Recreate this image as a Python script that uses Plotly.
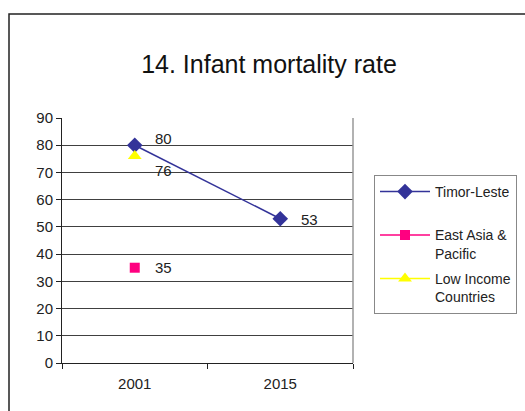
import plotly.graph_objects as go

years = ["2001", "2015"]
timor_leste = [80, 53]
east_asia_x = ["2001"]
east_asia = [35]
low_income_x = ["2001"]
low_income = [76]
y_ticks = [0, 10, 20, 30, 40, 50, 60, 70, 80, 90]

FONT = "Liberation Sans, Arial, sans-serif"
NAVY = "#333399"
PINK = "#FF0080"
YELLOW = "#FFFF00"
TXT = "#222222"

fig = go.Figure()
fig.add_trace(go.Scatter(
    x=years, y=timor_leste, name="Timor-Leste<br> ", mode="lines+markers",
    line=dict(color=NAVY, width=1.5),
    marker=dict(symbol="diamond", size=12, color=NAVY),
    legendgroup="a"))
fig.add_trace(go.Scatter(
    x=east_asia_x, y=east_asia, name="East Asia &<br>Pacific", mode="lines+markers",
    line=dict(color=PINK, width=1.5),
    marker=dict(symbol="square", size=10, color=PINK),
    legendgroup="b"))
fig.add_trace(go.Scatter(
    x=low_income_x, y=low_income, name="Low Income<br>Countries", mode="lines+markers",
    line=dict(color=YELLOW, width=1.5),
    marker=dict(symbol="triangle-up", size=12, color=YELLOW),
    legendgroup="c"))

# data labels (positioned via category index on the axis)
labels = [
    (years[0], timor_leste[0], 18, 7),
    (years[1], timor_leste[1], 19, -1),
    (east_asia_x[0], east_asia[0], 18, 0),
    (low_income_x[0], low_income[0], 18, -14),
]
for xv, yv, xs, ys in labels:
    fig.add_annotation(x=years.index(xv), y=yv, xref="x", yref="y",
                       text=str(yv), showarrow=False,
                       xanchor="left", yanchor="middle", xshift=xs, yshift=ys,
                       font=dict(family=FONT, size=15, color=TXT))

W, H = 525, 411
L, R, T, B = 62, 353, 118, 363
pw, ph = R - L, B - T


def px(x):
    return (x - L) / pw


def py(y):
    return (B - y) / ph


# outer frame
fig.add_shape(type="rect", xref="paper", yref="paper",
              x0=px(9), x1=px(560), y0=py(14), y1=py(450),
              line=dict(color="#222222", width=1.5), fillcolor="rgba(0,0,0,0)",
              layer="above")
# right border of plot area
fig.add_shape(type="line", xref="paper", yref="paper",
              x0=1, x1=1, y0=0, y1=1,
              line=dict(color="#999999", width=1.5))

fig.update_layout(
    width=W, height=H,
    margin=dict(l=L, r=W - R, t=T, b=H - B, autoexpand=False),
    paper_bgcolor="white", plot_bgcolor="white",
    font=dict(family=FONT, size=15, color=TXT),
    title=dict(text="14. Infant mortality rate", x=269 / W, xref="container",
               xanchor="center", y=1 - 64 / H, yref="container", yanchor="middle",
               font=dict(family=FONT, size=25, color="#111111")),
    xaxis=dict(type="category", range=[-0.5, 1.5], tickson="boundaries",
               ticks="outside", ticklen=5, tickcolor="#222222",
               showline=True, linecolor="#222222", linewidth=1,
               showgrid=False, tickfont=dict(size=15), ticklabelstandoff=7),
    yaxis=dict(range=[0, 90], tickvals=y_ticks, ticks="outside", ticklen=5,
               tickcolor="#222222", showline=True, linecolor="#222222",
               linewidth=1, showgrid=True, gridcolor="#404040", gridwidth=1,
               zeroline=False, tickfont=dict(size=15)),
    legend=dict(x=px(374), y=py(175), xanchor="left", yanchor="top",
                bordercolor="#888888", borderwidth=1, bgcolor="white",
                font=dict(family=FONT, size=14, color=TXT), valign="top",
                traceorder="grouped", tracegroupgap=4, itemwidth=50),
    showlegend=True,
)

fig.write_html("out.html", config={"displayModeBar": False})

with open("out.html", encoding="utf-8") as f:
    html = f.read()
html = html.replace("<head>", "<head><style>html,body{margin:0;padding:0;}</style>", 1)
with open("out.html", "w", encoding="utf-8") as f:
    f.write(html)
